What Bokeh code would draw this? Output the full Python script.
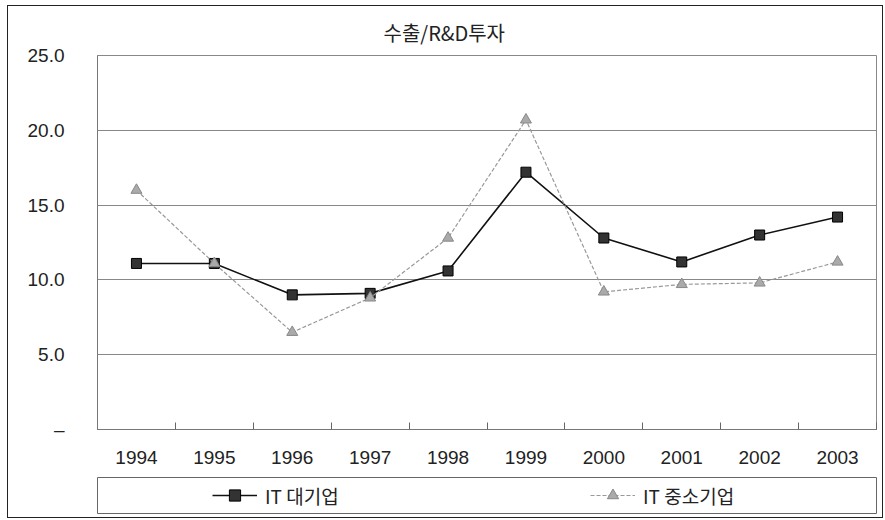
from bokeh.plotting import figure
from bokeh.layouts import column
from bokeh.models import (ColumnDataSource, FixedTicker, Range1d, Legend, LegendItem, Title)
from bokeh.embed import file_html
from bokeh.resources import INLINE

# ---- data ----
years = ["1994", "1995", "1996", "1997", "1998", "1999", "2000", "2001", "2002", "2003"]
it_large = [11.1, 11.1, 9.0, 9.1, 10.6, 17.2, 12.8, 11.2, 13.0, 14.2]
it_small = [16.0, 11.1, 6.5, 8.8, 12.8, 20.7, 9.2, 9.7, 9.8, 11.2]
y_ticks = [0, 5, 10, 15, 20, 25]
y_tick_labels = ["–", "5.0", "10.0", "15.0", "20.0", "25.0"]
title_text = "수출/R&D투자"
series_names = ["IT 대기업", "IT 중소기업"]

xs = [i + 0.5 for i in range(len(years))]
src = ColumnDataSource(dict(x=xs, large=it_large, small=it_small))

CJK = "Noto Sans CJK KR"
NUM = "Liberation Sans"

# styles shared by chart and legend
large_line = dict(line_color="#111111", line_width=1.6)
large_mark = dict(marker="square", size=10, fill_color="#333333", line_color="#000000", line_width=1)
small_line = dict(line_color="#999999", line_width=1.2, line_dash="4 2")
small_mark = dict(marker="triangle", size=11, fill_color="#aaaaaa", line_color="#888888", line_width=1)

W = 874
H1, H2 = 466, 45

# ---------------- main chart ----------------
p = figure(width=W, height=H1, output_backend="svg", toolbar_location=None,
           x_range=Range1d(0, len(years)), y_range=Range1d(0, 25),
           min_border_left=88, min_border_right=6, min_border_top=49, min_border_bottom=43)
p.background_fill_color = "white"
p.border_fill_color = "white"
p.outline_line_color = "#888888"
p.outline_line_width = 1

p.title = Title(text=title_text, align="left", offset=286, standoff=17,
                text_font=CJK, text_font_size="20px",
                text_font_style="normal", text_color="#222222")

p.yaxis.ticker = FixedTicker(ticks=y_ticks)
p.yaxis.major_label_overrides = {t: l for t, l in zip(y_ticks, y_tick_labels)}
p.yaxis.major_label_text_font = NUM
p.yaxis.major_label_text_font_size = "19px"
p.yaxis.major_label_text_color = "#222222"
p.yaxis.major_tick_line_color = None
p.yaxis.major_tick_out = 0
p.yaxis.major_tick_in = 0
p.yaxis.minor_tick_line_color = None
p.yaxis.major_label_standoff = 33
p.yaxis.axis_line_color = "#777777"

p.xaxis.ticker = FixedTicker(ticks=xs, minor_ticks=list(range(len(years) + 1)))
p.xaxis.major_label_overrides = {x: y for x, y in zip(xs, years)}
p.xaxis.major_label_text_font = NUM
p.xaxis.major_label_text_font_size = "19px"
p.xaxis.major_label_text_color = "#222222"
p.xaxis.major_tick_line_color = None
p.xaxis.major_tick_out = 0
p.xaxis.major_tick_in = 0
p.xaxis.minor_tick_in = 7
p.xaxis.minor_tick_out = 0
p.xaxis.minor_tick_line_color = "#666666"
p.xaxis.major_label_standoff = 21
p.xaxis.axis_line_color = "#777777"

p.xgrid.grid_line_color = None
p.ygrid.ticker = FixedTicker(ticks=y_ticks)
p.ygrid.grid_line_color = "#888888"
p.ygrid.grid_line_width = 1

p.line("x", "large", source=src, **large_line)
p.scatter("x", "large", source=src, **large_mark)
p.line("x", "small", source=src, **small_line)
p.scatter("x", "small", source=src, **small_mark)

# ---------------- legend box ----------------
# the legend's own frame is the legend box; its ranges keep the series out of view
p2 = figure(width=W, height=H2, output_backend="svg", toolbar_location=None,
            x_axis_location=None, y_axis_location=None,
            x_range=Range1d(-100, -99), y_range=Range1d(-100, -99),
            min_border_left=89, min_border_right=2, min_border_top=5, min_border_bottom=4)
p2.grid.grid_line_color = None
p2.outline_line_color = "#666666"
p2.outline_line_width = 1
p2.background_fill_color = "white"
p2.border_fill_color = "white"

g1 = p2.line("x", "large", source=src, **large_line)
g2 = p2.scatter("x", "large", source=src, **large_mark)
g3 = p2.line("x", "small", source=src, **small_line)
g4 = p2.scatter("x", "small", source=src, **small_mark)

legend = Legend(items=[LegendItem(label=series_names[0], renderers=[g1, g2]),
                       LegendItem(label=series_names[1], renderers=[g3, g4])],
                orientation="horizontal", location=(115, 4),
                glyph_width=45, glyph_height=28, label_standoff=8,
                label_width=100, spacing=225, padding=0, margin=0,
                border_line_color=None, background_fill_alpha=0,
                label_text_font=CJK, label_text_font_size="19px",
                label_text_color="#222222")
p2.add_layout(legend, "center")

layout = column(p, p2, spacing=0)
layout.margin = (6, 0, 0, 8)
layout.styles = {"outline": "1.5px solid #222222"}

open("out.html", "w").write(file_html(layout, INLINE))
